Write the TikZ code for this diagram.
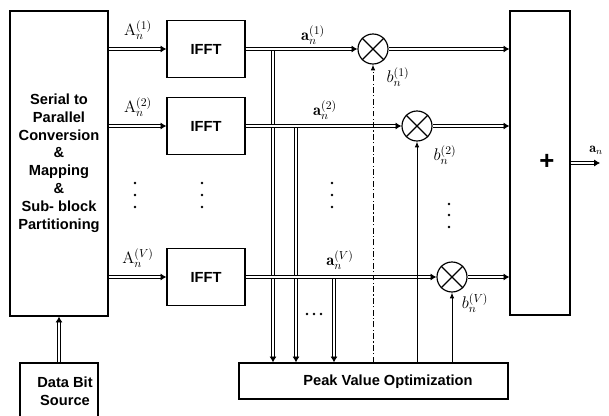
\documentclass[tikz,border=0pt]{standalone}
\usepackage{fontspec}
\setsansfont{Liberation Sans}
\usetikzlibrary{arrows.meta}

\begin{document}
\begin{tikzpicture}[x=0.03cm, y=-0.03cm,
  box/.style={draw, line width=1pt, inner sep=0pt},
  lbl/.style={font=\sffamily\bfseries\fontsize{12.5}{15.2}\selectfont, align=center},
  dbl/.style={double, double distance=1.8pt, line width=0.7pt, -{Latex[length=5pt,width=6pt]}},
  ctl/.style={line width=0.8pt, -{Latex[length=5pt,width=4pt]}},
  mult/.style={draw, circle, line width=1pt, minimum size=0.9cm, inner sep=0pt},
  sym/.style={font=\fontsize{14}{16}\selectfont}]

\useasboundingbox (0,0) rectangle (609,416);
\clip (0,0) rectangle (609,416);

%Blocks
\node [box, minimum width=2.94cm, minimum height=9.15cm] (0) at (59,163.5) {};
\node [lbl] at (59,163) {Serial to\\Parallel\\Conversion\\\&\\Mapping\\\&\\Sub- block\\Partitioning};
\node [box, minimum width=2.34cm, minimum height=1.71cm] (1) at (59,391.5) {};
\node [lbl] at (65,391) {Data Bit\\Source};
\node [box, lbl, minimum width=2.34cm, minimum height=1.71cm] (2) at (206,49) {IFFT};
\node [box, lbl, minimum width=2.34cm, minimum height=1.71cm] (3) at (206,126) {IFFT};
\node [box, lbl, minimum width=2.34cm, minimum height=1.71cm] (4) at (206,277) {IFFT};
\node [mult] (5) at (373,49) {};
\node [mult] (6) at (417,126) {};
\node [mult] (7) at (452,277) {};
\node [box, minimum width=1.8cm, minimum height=9.12cm] (8) at (540,163) {};
\node [font=\sffamily\bfseries\fontsize{22}{22}\selectfont] at (547,162) {+};
\node [box, minimum width=8.07cm, minimum height=1.08cm] (9) at (373.5,381) {};
\node [lbl] at (388,382) {Peak Value Optimization};

%Crosses
\draw [line width=1pt] (5.north west) to (5.south east);
\draw [line width=1pt] (5.north east) to (5.south west);
\draw [line width=1pt] (6.north west) to (6.south east);
\draw [line width=1pt] (6.north east) to (6.south west);
\draw [line width=1pt] (7.north west) to (7.south east);
\draw [line width=1pt] (7.north east) to (7.south west);

%Branches to optimization
\coordinate (10) at (273,49);
\coordinate (11) at (296,126);
\coordinate (12) at (334,277);
\draw [dbl] (10) to (10 |- 9.north);
\draw [dbl] (11) to (11 |- 9.north);
\draw [dbl] (12) to (12 |- 9.north);

%Signal paths
\draw [dbl] (0.east |- 2) to (2.west);
\draw [dbl] (0.east |- 3) to (3.west);
\draw [dbl] (0.east |- 4) to (4.west);
\draw [dbl] (2.east) to (5.west);
\draw [dbl] (3.east) to (6.west);
\draw [dbl] (4.east) to (7.west);
\draw [dbl] (5.east) to (5 -| 8.west);
\draw [dbl] (6.east) to (6 -| 8.west);
\draw [dbl] (7.east) to (7 -| 8.west);
\draw [dbl] (1.north) to (0.south);
\coordinate (13) at (600,163);
\draw [dbl] (8.east) to (13);

%Phase factors
\draw [ctl, dash pattern=on 5pt off 2pt on 1pt off 2pt] (5 |- 9.north) to (5.south);
\draw [ctl] (6 |- 9.north) to (6.south);
\draw [ctl] (7 |- 9.north) to (7.south);

%Labels
\node [sym] at (138,30) {$\mathrm{A}_n^{(1)}$};
\node [sym] at (138,107) {$\mathrm{A}_n^{(2)}$};
\node [sym] at (138,258) {$\mathrm{A}_n^{(V)}$};
\node [sym] at (313,35) {$\mathbf{a}_n^{(1)}$};
\node [sym] at (325,110) {$\mathbf{a}_n^{(2)}$};
\node [sym] at (340,260) {$\mathbf{a}_n^{(V)}$};
\node [sym] at (398,77) {$b_n^{(1)}$};
\node [sym] at (445,155) {$b_n^{(2)}$};
\node [sym] at (475,303) {$b_n^{(V)}$};
\node [font=\fontsize{12}{14}\selectfont] at (596,150) {$\mathbf{a}_n$};

%Dots
\foreach \x in {135,202,332}
  \foreach \y in {183,195,207}
    \fill (\x,\y) circle (1.2pt);
\foreach \y in {204,215,227}
  \fill (449,\y) circle (1.2pt);
\foreach \x in {307,314,321}
  \fill (\x,314) circle (1.2pt);
\end{tikzpicture}
\end{document}
